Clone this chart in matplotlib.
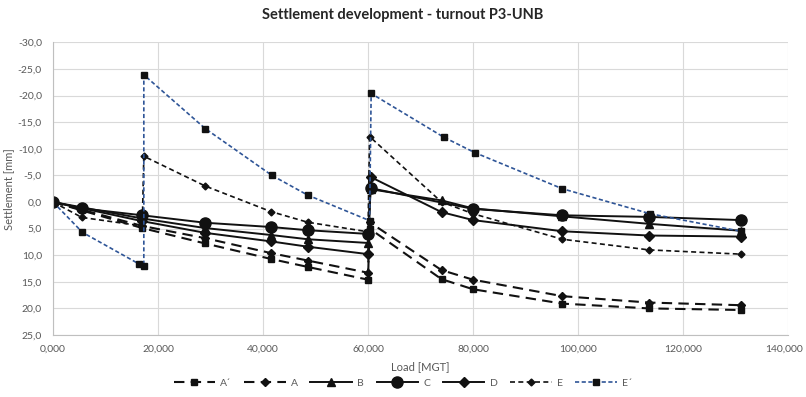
# Setzungsentwicklung Weiche P3-UNB
import numpy as np
from matplotlib import pyplot as plt
from matplotlib import transforms
from matplotlib.ticker import FuncFormatter

plt.rcParams['font.family'] = ['Lato', 'DejaVu Sans']

# ---- Messwerte (Load [MGT], Setzung [mm]) ----
x_a2 = [0, 17000, 29000, 41500, 48500, 60000, 60300, 74000, 80000, 97000, 113500, 131000]
s_a2 = [0, 4.9, 7.8, 10.7, 12.2, 14.6, 5.0, 14.5, 16.4, 19.1, 20.0, 20.3]

x_a = [0, 17000, 29000, 41500, 48500, 60000, 60300, 74000, 80000, 97000, 113500, 131000]
s_a = [0, 4.5, 6.8, 9.6, 11.0, 13.3, 3.8, 12.8, 14.6, 17.7, 18.9, 19.4]

x_b = [0, 17000, 29000, 41500, 48500, 60000, 60500, 74000, 80000, 97000, 113500, 131000]
s_b = [0, 3.1, 4.9, 6.2, 7.0, 7.7, -2.4, -0.3, 1.2, 2.7, 4.1, 5.4]

x_c = [0, 5500, 17000, 29000, 41500, 48500, 60000, 60500, 80000, 97000, 113500, 131000]
s_c = [0, 1.2, 2.5, 3.9, 4.7, 5.3, 6.0, -2.6, 1.3, 2.5, 2.8, 3.4]

x_d = [0, 17000, 29000, 41500, 48500, 60000, 60500, 74000, 80000, 97000, 113500, 131000]
s_d = [0, 3.6, 5.8, 7.4, 8.4, 9.8, -4.7, 1.9, 3.4, 5.5, 6.3, 6.5]

x_e = [0, 5500, 17000, 17300, 29000, 41500, 48500, 60000, 60300, 74000, 80000, 97000, 113500, 131000]
s_e = [0, 2.9, 4.5, -8.6, -3.0, 1.8, 3.8, 5.6, -12.3, 0.0, 2.2, 7.0, 9.0, 9.8]

x_e2 = [0, 5600, 16300, 17300, 17300, 29000, 41700, 48500, 60300, 60600, 74400, 80300, 97000, 113700, 131000]
s_e2 = [0, 5.7, 11.6, 12.0, -23.9, -13.8, -5.0, -1.3, 3.5, -20.4, -12.2, -9.3, -2.5, 2.2, 5.5]

x_ticks = np.arange(0, 140001, 20000)
y_ticks = np.arange(-30, 26, 5)

fig = plt.figure(figsize=(8.06, 3.97), dpi=100)
ax = fig.add_axes([53 / 806, 1 - 335 / 397, (788 - 53) / 806, (335 - 42.4) / 397])

blk = '#111111'
ax.plot(x_a2, s_a2, color=blk, lw=1.5, ls=(0, (5, 3)), marker='s', ms=5, label='A´')
ax.plot(x_a, s_a, color=blk, lw=1.5, ls=(0, (5, 3)), marker='D', ms=4.5, label='A')
ax.plot(x_b, s_b, color=blk, lw=1.4, marker='^', ms=6, label='B')
ax.plot(x_c, s_c, color=blk, lw=1.4, marker='o', ms=8, label='C')
ax.plot(x_d, s_d, color=blk, lw=1.4, marker='D', ms=5, label='D')
ax.plot(x_e, s_e, color=blk, lw=1.2, ls=(0, (3, 2)), marker='D', ms=3.5, label='E')
ax.plot(x_e2, s_e2, color='#2F5597', lw=1.2, ls=(0, (2.5, 1.5)), marker='s', ms=5,
        mfc=blk, mec=blk, label='E´')

ax.set_xlim(0, 140000)
ax.set_ylim(25, -30)
ax.set_xticks(x_ticks)
ax.set_yticks(y_ticks)
ax.set_xticklabels(['{0:.3f}'.format(v / 1000).replace('.', ',') for v in x_ticks])
ax.yaxis.set_major_formatter(FuncFormatter(lambda v, p: '{0:.1f}'.format(v).replace('.', ',')))
ax.grid(True, color='#d9d9d9', lw=0.8)
ax.set_axisbelow(True)
ax.tick_params(length=0, labelsize=7.5, labelcolor='#595959')
ax.tick_params(axis='y', pad=8)
ax.tick_params(axis='x', pad=7)
for side in ['top', 'right']:
    ax.spines[side].set_visible(False)
for side in ['left', 'bottom']:
    ax.spines[side].set_color('#bfbfbf')

# letzte Beschriftung nach innen schieben, damit sie nicht abgeschnitten wird
last = ax.get_xticklabels()[-1]
last.set_horizontalalignment('right')
last.set_transform(last.get_transform() + transforms.ScaledTranslation(15 / 100, 0, fig.dpi_scale_trans))

ax.set_xlabel('Load [MGT]', fontsize=8, color='#595959', labelpad=5)
ax.set_ylabel('Settlement [mm]', fontsize=8, color='#595959', labelpad=3)
fig.text(0.5, 1 - 15 / 397, 'Settlement development - turnout P3-UNB', ha='center', va='center',
         fontsize=10.5, fontweight='bold', color='#262626')

fig.legend(loc='center', bbox_to_anchor=(0.5, 1 - 383 / 397), ncol=7, frameon=False,
           fontsize=7.5, labelcolor='#595959', handlelength=4, columnspacing=1.2, handletextpad=0.5)

plt.savefig('out.png', dpi=100)
